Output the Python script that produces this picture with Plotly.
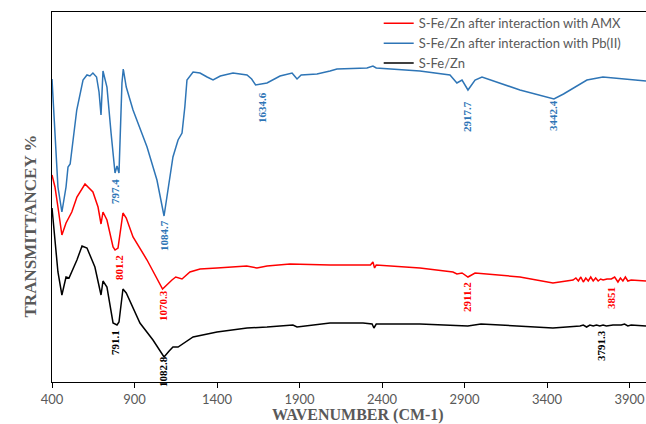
import plotly.graph_objects as go

# Wavenumber (cm-1) and relative transmittance (arbitrary units)
pb_wn = [400, 418, 436, 460, 485, 497, 510, 550, 588, 612, 630, 648, 670, 685, 697, 709, 733, 758, 782, 794, 806,
         824, 832, 850, 891, 976, 1036, 1079, 1105, 1133, 1164, 1188, 1205, 1218, 1255, 1297, 1340, 1376, 1420,
         1497, 1582, 1610, 1634, 1703, 1782, 1855, 1870, 1885, 1910, 2006, 2085, 2127, 2309, 2345, 2365, 2630,
         2812, 2854, 2885, 2921, 2964, 3006, 3236, 3442, 3500, 3642, 3739, 3885, 4000]
pb_val = [303, 249, 195, 170, 195, 215, 218, 272, 302, 307, 306, 309, 305, 290, 267, 311, 295, 249, 209, 216, 209,
          299, 313, 295, 272, 235, 202, 166, 195, 225, 242, 249, 275, 302, 310, 309, 305, 302, 306,
          309, 307, 303, 297, 299, 306, 309, 306, 303, 307, 308, 311, 313, 314, 316, 314, 311,
          307, 299, 302, 292, 302, 305, 292, 283, 288, 302, 305, 303, 301]

amx_wn = [400, 418, 436, 460, 485, 503, 520, 551, 600, 648, 679, 697, 709, 733, 770, 782, 800, 830, 850, 891, 976,
          1070, 1100, 1127, 1150, 1188, 1236, 1297, 1400, 1497, 1580, 1642, 1703, 1842, 2085, 2330, 2345, 2355,
          2365, 2630, 2830, 2854, 2885, 2921, 2964, 3236, 3436, 3558, 3575, 3590, 3605, 3620, 3635, 3650, 3665,
          3680, 3695, 3710, 3725, 3740, 3764, 3790, 3810, 3830, 3845, 3860, 3875, 3890, 3910, 4000]
amx_val = [207, 195, 175, 147, 159, 165, 170, 185, 198, 190, 175, 158, 170, 162, 135, 132, 134, 169, 164, 145, 122,
           93, 98, 102, 105, 103, 110, 113, 114, 115, 116, 114, 116, 118, 117, 117, 120, 114,
           117, 114, 110, 108, 109, 105, 109, 105, 99, 102, 104, 101, 105, 100, 104, 101, 105,
           101, 104, 101, 103, 102, 103, 103, 105, 100, 104, 101, 105, 101, 102, 101]

sfe_wn = [400, 418, 436, 460, 485, 503, 551, 582, 612, 660, 697, 709, 733, 770, 794, 806, 830, 850, 933, 1012,
          1079, 1110, 1133, 1164, 1190, 1255, 1400, 1582, 1703, 1860, 1885, 2085, 2285, 2340, 2351, 2365, 2630,
          2920, 3000, 3236, 3436, 3600, 3620, 3640, 3660, 3680, 3700, 3720, 3740, 3760, 3800, 3850, 3870, 3890,
          3910, 4000]
sfe_val = [174, 142, 110, 87, 105, 104, 122, 136, 134, 115, 87, 101, 95, 59, 57, 60, 93, 89, 59, 42,
           25, 31, 35, 35, 38, 45, 50, 54, 55, 57, 55, 59, 59, 58, 54, 58, 58,
           56, 58, 56, 54, 56, 57, 55, 57, 56, 57, 56, 57, 56, 57, 57, 58, 56,
           57, 56]

series_names = ["S-Fe/Zn after interaction with AMX", "S-Fe/Zn after interaction with Pb(II)", "S-Fe/Zn"]
series_colors = ["#ff0000", "#2e75b6", "#000000"]

# Peak labels: (text, wavenumber position, value position, colour index)
peak_text = ["797.4", "1084.7", "1634.6", "2917.7", "3442.4",
             "801.2", "1070.3", "2911.2", "3851",
             "791.1", "1082.8", "3791.3"]
peak_x = [782, 1079, 1673, 2915, 3436,
          806, 1073, 2915, 3788,
          782, 1073, 3727]
peak_y = [190, 146, 274, 266, 267,
          115, 76, 85, 84,
          39, 10, 37]
peak_series = [1, 1, 1, 1, 1, 0, 0, 0, 0, 2, 2, 2]

x_ticks = [400, 900, 1400, 1900, 2400, 2900, 3400, 3900]

fig = go.Figure()
for name, xs, ys, col in zip(series_names, [amx_wn, pb_wn, sfe_wn], [amx_val, pb_val, sfe_val], series_colors):
    fig.add_trace(go.Scatter(x=xs, y=ys, mode="lines", name=name,
                             line=dict(color=col, width=1.5)))

for t, px, py, si in zip(peak_text, peak_x, peak_y, peak_series):
    fig.add_annotation(x=px, y=py, xref="x", yref="y", text="<b>" + t + "</b>", showarrow=False, textangle=-90,
                       font=dict(family="Liberation Serif", size=11, color=series_colors[si]))

fig.add_annotation(x=-0.0556, y=0.4216, xref="paper", yref="paper", text="<b>TRANSMITTANCEY %</b>",
                   showarrow=False, textangle=-90,
                   font=dict(family="Liberation Serif", size=17, color="#595959"))
fig.add_annotation(x=0.515, y=-0.089, xref="paper", yref="paper", text="<b>WAVENUMBER (CM-1)</b>",
                   showarrow=False, yanchor="middle",
                   font=dict(family="Liberation Serif", size=16, color="#595959"))

fig.update_layout(
    width=646, height=424,
    margin=dict(l=52, r=0, t=12, b=42, autoexpand=False),
    paper_bgcolor="white", plot_bgcolor="white",
    showlegend=True,
    legend=dict(x=0.55, y=1.01, xanchor="left", yanchor="top", bgcolor="rgba(0,0,0,0)",
                font=dict(family="Lato", size=13, color="#595959"), itemwidth=30,
                tracegroupgap=0),
    xaxis=dict(range=[400, 4000], tickvals=x_ticks, ticks="outside", ticklen=5, tickcolor="black",
               showline=True, linecolor="black", linewidth=1, mirror=True, showgrid=False, zeroline=False,
               automargin=False, ticklabelstandoff=0,
               tickfont=dict(family="Lato", size=13, color="#595959")),
    yaxis=dict(range=[0, 370], showticklabels=False, ticks="", showline=True, linecolor="black",
               linewidth=1, showgrid=False, zeroline=False, automargin=False),
)

fig.write_html("out.html", config={"displayModeBar": False},
               post_script="document.body.style.margin='0';")
